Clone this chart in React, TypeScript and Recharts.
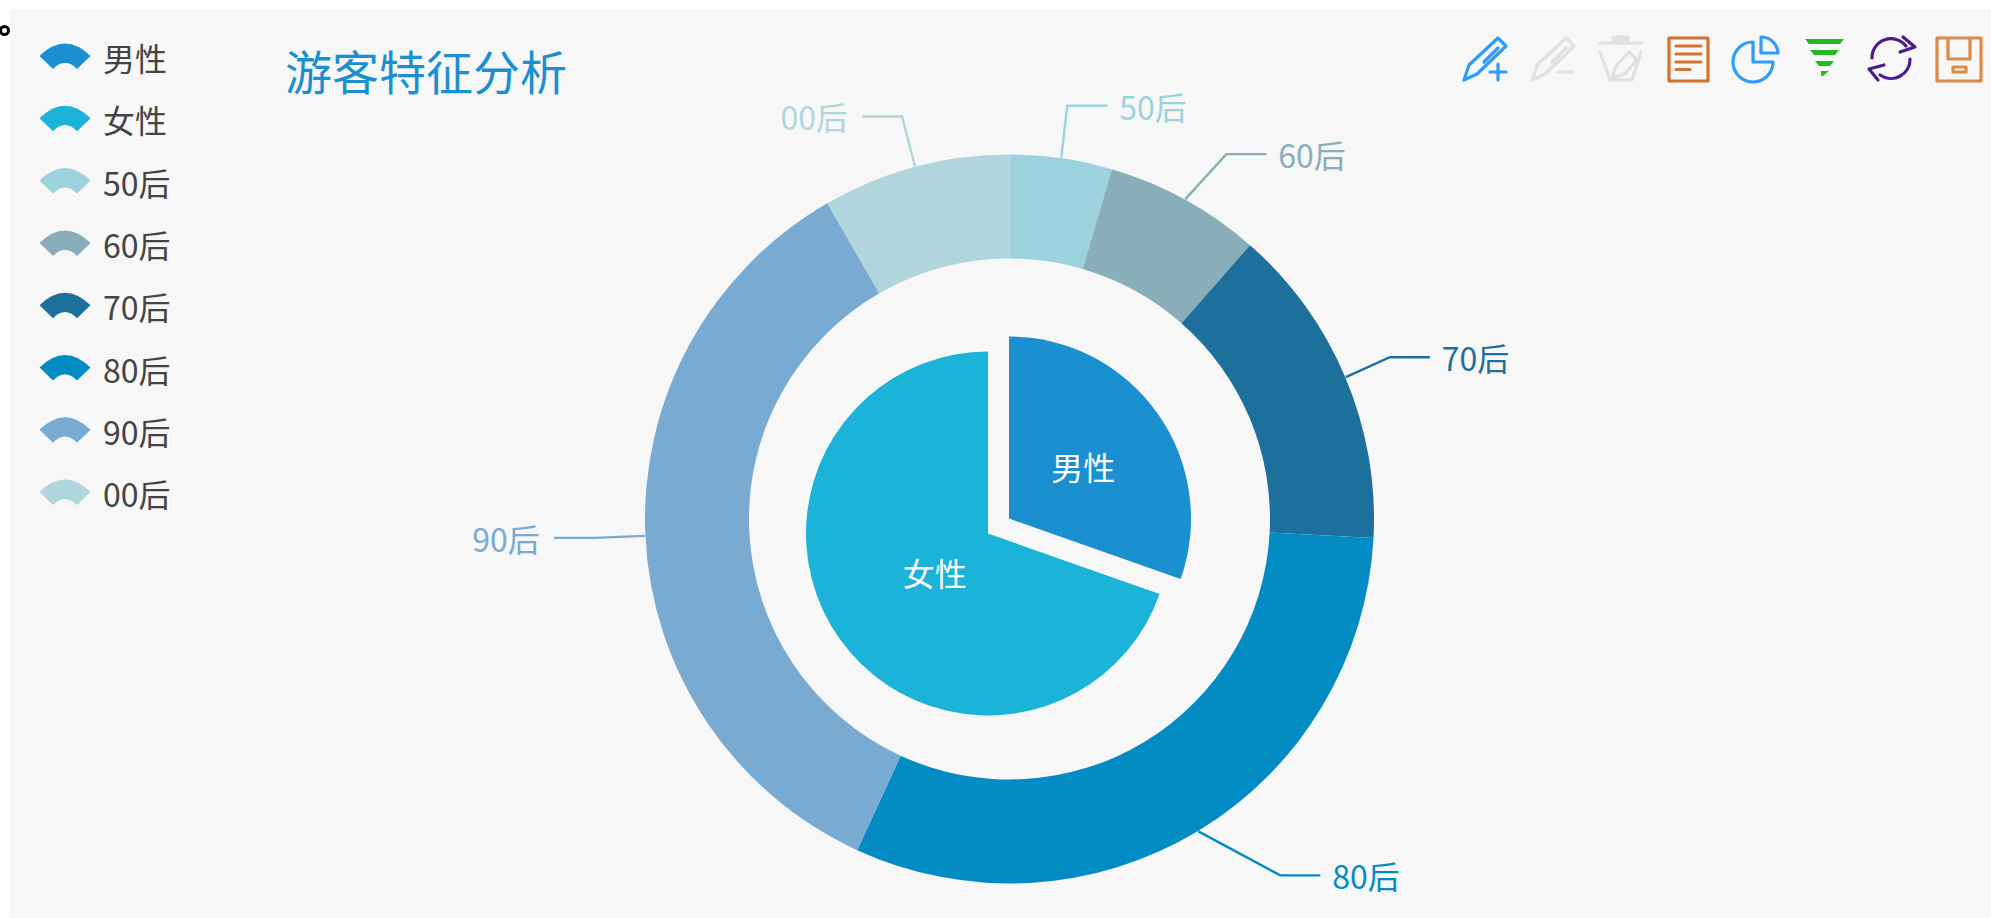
import { Legend, Pie, PieChart } from 'recharts'

const genderNames = ['男性', '女性']
const genderValues = [30.4, 69.6]
const genderColors = ['#1a90d1', '#1bb3d8']

const ageNames = ['50后', '60后', '70后', '80后', '90后', '00后']
const ageValues = [4.53, 6.94, 14.36, 31.03, 34.81, 8.33]
const ageColors = ['#9bd2de', '#8aaeb9', '#1e709c', '#038cc4', '#79aad2', '#b0d5dd']

const legendNames = [...genderNames, ...ageNames]
const legendColors = [...genderColors, ...ageColors]

const FONT = '"Noto Sans CJK SC", "Noto Sans", sans-serif'
const RADIAN = Math.PI / 180

const CX = 1009
const CY = 518.5
const PULL_X = -21
const PULL_Y = 15

const genderData = genderNames.map((name, i) => ({ name, value: genderValues[i], fill: genderColors[i] }))
// the selected slice sits in its own pie so it can be pulled out along its mid angle
const maleOnly = genderData.map((d, i) => (i === 0 ? d : { ...d, fill: 'none' }))
const femaleOnly = genderData.map((d, i) => (i === 1 ? d : { ...d, fill: 'none' }))
const ageData = ageNames.map((name, i) => ({ name, value: ageValues[i], fill: ageColors[i] }))

// elbow of each leader line, relative to where it leaves the ring
const leaderOffsets: Record<string, [number, number]> = {
  '50后': [6, -52],
  '60后': [41, -45],
  '70后': [44, -20],
  '80后': [82, 44],
  '90后': [-51, 2],
  '00后': [-13, -50],
}

const AgeLabel = (props: any) => {
  const { cx, cy, midAngle, outerRadius, name, fill } = props
  const r = outerRadius + 0.5
  const x0 = cx + r * Math.cos(midAngle * RADIAN)
  const y0 = cy - r * Math.sin(midAngle * RADIAN)
  const [ox, oy] = leaderOffsets[name]
  const right = x0 + ox > cx && name !== '00后'
  const x1 = x0 + ox
  const y1 = y0 + oy
  const x2 = x1 + (right ? 40 : -40)
  return (
    <g>
      <path d={`M${x0} ${y0}L${x1} ${y1}L${x2} ${y1}`} fill="none" stroke={fill} strokeWidth={2.4} />
      <text
        x={x2 + (right ? 12 : -14)}
        y={y1}
        fill={fill}
        fontSize={32}
        fontFamily={FONT}
        textAnchor={right ? 'start' : 'end'}
        dominantBaseline="central"
      >
        {name}
      </text>
    </g>
  )
}

const GenderLabel = (props: any) => {
  const { cx, cy, midAngle, outerRadius, name } = props
  const r = outerRadius * 0.5
  return (
    <text
      x={cx + r * Math.cos(midAngle * RADIAN)}
      y={cy - r * Math.sin(midAngle * RADIAN) + 0.5}
      fill="#fff"
      fontSize={32}
      fontFamily={FONT}
      textAnchor="middle"
      dominantBaseline="central"
    >
      {name}
    </text>
  )
}

const FanLegend = () => (
  <svg width={180} height={520} style={{ display: 'block' }}>
    {legendNames.map((name, i) => (
      <g key={name} transform={`translate(0 ${i * 62.3})`}>
        <path
          d="M-25.5 0Q0 -25 25.5 0L12 13Q0 0.6 -12 13Z"
          transform="translate(55 26)"
          fill={legendColors[i]}
        />
        <text x={93} y={27} fill="#444" fontSize={32} fontFamily={FONT} dominantBaseline="central">
          {name}
        </text>
      </g>
    ))}
  </svg>
)

const BLUE = '#2f9bff'
const GREY = '#e0e0e0'
const ORANGE = '#d2722f'
const SAVE = '#dc8a48'
const GREEN = '#22bb22'
const PURPLE = '#4b1a8c'

const Toolbox = () => (
  <svg
    width={1991}
    height={918}
    style={{ position: 'absolute', left: 0, top: 0, pointerEvents: 'none' }}
    fill="none"
    strokeWidth={3.2}
    strokeLinejoin="round"
    strokeLinecap="round"
  >
    <g stroke={BLUE}>
      <path d="M1464 80L1469 65L1498 38L1506 46L1477 74Z" />
      <path d="M1484 62L1498 48" />
      <path d="M1490 72H1506M1498 64V80" />
    </g>
    <g stroke={GREY}>
      <path d="M1532 80L1537 65L1566 38L1574 46L1545 74Z" />
      <path d="M1552 62L1566 48" />
      <path d="M1558 72H1573" />
      <path d="M1600 43H1641" />
      <path d="M1613 37H1628V43H1613Z" fill={GREY} />
      <path d="M1600 52L1610 80H1632L1641 52" />
      <path d="M1612 78L1616 66L1629 52L1637 60L1625 74Z" />
    </g>
    <g stroke={ORANGE}>
      <rect x={1669} y={38} width={39} height={43} strokeLinecap="butt" />
      <path d="M1676 46H1701M1676 54H1701M1676 62H1701M1676 69.5H1690" />
    </g>
    <g stroke={BLUE}>
      <path d="M1753 42A20 20 0 1 0 1773 62H1753Z" />
      <path d="M1761 37A17 17 0 0 1 1778 53H1761Z" />
    </g>
    <g fill={GREEN}>
      <path d="M1805 39H1844L1840 44H1809Z" />
      <path d="M1810 50H1839L1835 55H1814Z" />
      <path d="M1815 61H1834L1830 66H1819Z" />
      <path d="M1821 71H1829L1823 76H1821Z" />
    </g>
    <g stroke={PURPLE}>
      <path d="M1872 58A19 19 0 0 1 1906 46" />
      <path d="M1903 37L1915 47L1900 52" />
      <path d="M1910 59A19 19 0 0 1 1880 75" />
      <path d="M1878 80L1869 69L1884 65" />
    </g>
    <g stroke={SAVE} strokeLinecap="butt">
      <rect x={1937} y={38} width={44} height={43} />
      <path d="M1948 38V59H1970V38" />
      <rect x={1953} y={67} width={13} height={5} />
    </g>
  </svg>
)

export default function App() {
  return (
    <div style={{ position: 'absolute', left: 0, top: 0, width: 1991, height: 918, background: '#fff', overflow: 'hidden' }}>
      <div style={{ position: 'absolute', left: 9, top: 9, right: 0, bottom: 0, background: '#f7f7f7' }} />
      <div
        style={{
          position: 'absolute',
          left: -1,
          top: 25,
          width: 5,
          height: 5,
          border: '3px solid #000',
          borderRadius: '50%',
        }}
      />
      <div
        style={{
          position: 'absolute',
          left: 285,
          top: 38,
          fontFamily: FONT,
          fontSize: 47,
          lineHeight: '64px',
          color: '#1a8fd1',
          whiteSpace: 'nowrap',
        }}
      >
        游客特征分析
      </div>
      <div style={{ position: 'absolute', left: 0, top: 0 }}>
        <PieChart width={1991} height={918} margin={{ top: 0, right: 0, bottom: 0, left: 0 }}>
          {/* centre + middle keeps the legend from eating into the plot area */}
          <Legend
            content={() => <FanLegend />}
            layout="vertical"
            align="center"
            verticalAlign="middle"
            wrapperStyle={{ left: 10, top: 30, width: 180 }}
          />
          <Pie
            data={femaleOnly}
            dataKey="value"
            nameKey="name"
            cx={CX + PULL_X}
            cy={CY + PULL_Y}
            innerRadius={0}
            outerRadius={182}
            startAngle={90}
            endAngle={-270}
            stroke="none"
            label={false}
            labelLine={false}
            isAnimationActive={false}
          />
          <Pie
            data={maleOnly}
            dataKey="value"
            nameKey="name"
            cx={CX}
            cy={CY}
            innerRadius={0}
            outerRadius={182}
            startAngle={90}
            endAngle={-270}
            stroke="none"
            label={GenderLabel}
            labelLine={false}
            isAnimationActive={false}
          />
          <Pie
            data={ageData}
            dataKey="value"
            nameKey="name"
            cx={CX + 0.5}
            cy={CY + 0.5}
            innerRadius={260.5}
            outerRadius={364.5}
            startAngle={90}
            endAngle={-270}
            stroke="none"
            label={AgeLabel}
            labelLine={false}
            isAnimationActive={false}
          />
        </PieChart>
      </div>
      <Toolbox />
    </div>
  )
}
